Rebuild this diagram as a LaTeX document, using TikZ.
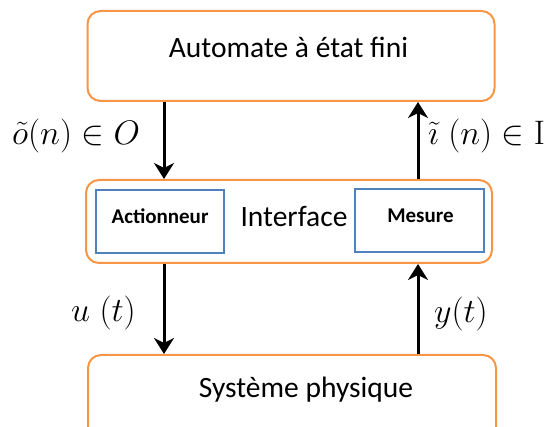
\RequirePackage{fix-cm}
\documentclass[tikz,border=0pt]{standalone}
\usepackage[no-math]{fontspec}
\setmainfont{Carlito}
\usetikzlibrary{arrows.meta}
\definecolor{boxorange}{HTML}{F79646}
\definecolor{boxblue}{HTML}{4F81BD}
\begin{document}
\begin{tikzpicture}[x=1pt,y=-1pt,
  block/.style={draw=boxorange,line width=2pt,rounded corners=13pt,inner sep=0pt},
  unit/.style={draw=boxblue,line width=2pt,inner sep=0pt},
  arr/.style={line width=3pt,-{Stealth[length=16pt,width=20pt,inset=5pt]}},
  sig/.style={inner sep=0pt,anchor=base west,font=\fontsize{34}{40}\selectfont},
  txt/.style={inner sep=0pt,anchor=base,font=\fontsize{29.5}{34}\selectfont},
  small/.style={inner sep=0pt,anchor=base,font=\fontsize{21}{25}\selectfont\bfseries}]
\useasboundingbox (0,0) rectangle (557,427);

% three levels of the loop
\node[block,minimum width=407pt,minimum height=90pt] (fsm) at (291,56) {};
\node[block,minimum width=406pt,minimum height=83pt] (itf) at (289,221.5) {};
\node[block,minimum width=408pt,minimum height=90pt] (sys) at (292,400) {};

\node[txt] (fsmtext) at (288.5,58) {Automate à état fini};
\node[txt] (itftext) at (294,227) {Interface};
\node[txt] (systext) at (306,398) {Système physique};

% actuator and sensor inside the interface
\node[unit,minimum width=128pt,minimum height=63pt] (act) at (160,221.5) {};
\node[unit,minimum width=129pt,minimum height=63pt] (mes) at (419.5,220.5) {};
\node[small] (acttext) at (160,224) {Actionneur};
\node[small] (mestext) at (420.5,223) {Mesure};

% signal flow
\draw[arr] (fsm.south -| 164,0) -- (itf.north -| 164,0);
\draw[arr] (itf.north -| 418,0) -- (fsm.south -| 418,0);
\draw[arr] (itf.south -| 164,0) -- (sys.north -| 164,0);
\draw[arr] (sys.north -| 418,0) -- (itf.south -| 418,0);

% signal labels
\node[sig] (oout) at (12,145) {$\tilde{o}(n)\in O$};
\node[sig] (iin) at (428,145) {$\tilde{\imath}\;(n)\in \mathrm{I}$};
\node[sig] (uin) at (71,322) {$u\;(t)$};
\node[sig] (yout) at (434,323) {$y(t)$};
\end{tikzpicture}
\end{document}
